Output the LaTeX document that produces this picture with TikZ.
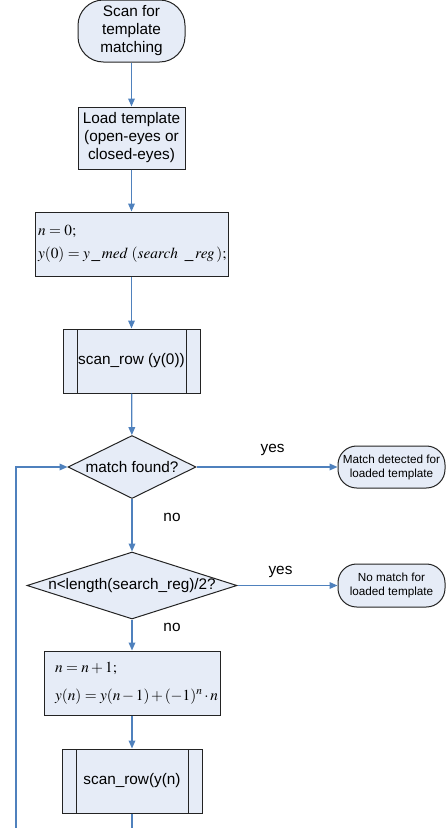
\documentclass[tikz,border=0pt]{standalone}
\usepackage{mathptmx}
\usepackage{fontspec}
\setmainfont{Liberation Sans}
\usetikzlibrary{shapes.geometric,arrows.meta}
\definecolor{boxfill}{RGB}{230,236,247}
\definecolor{flowblue}{RGB}{79,129,189}
\definecolor{darkline}{RGB}{35,35,35}

\tikzset{
  box/.style={draw=darkline, fill=boxfill, line width=0.75pt, inner sep=0pt, align=center,
    font=\fontsize{11.5}{13.5}\selectfont},
  term/.style={box, rounded corners=#1},
  term/.default=14pt,
  subbox/.style={box, path picture={
      \draw[darkline, line width=0.75pt] ([xshift=10.5pt]path picture bounding box.north west) -- ([xshift=10.5pt]path picture bounding box.south west);
      \draw[darkline, line width=0.75pt] ([xshift=-10.5pt]path picture bounding box.north east) -- ([xshift=-10.5pt]path picture bounding box.south east);}},
  dec/.style={box, shape=diamond},
  lbl/.style={font=\fontsize{11.5}{13.5}\selectfont},
  flowline/.style={draw=flowblue, line width=0.9pt},
  flow/.style={flowline, -{Triangle[length=6pt,width=5pt]}}
}

\begin{document}
\begin{tikzpicture}[x=0.75pt, y=-0.75pt]
  \useasboundingbox (0,0) rectangle (448,828);
  % Start and loading
  \node[term=19pt, minimum width=80.25pt, minimum height=46.5pt] (start) at (131.5,31) {Scan for\\template\\matching};
  \node[box, minimum width=80.25pt, minimum height=46.5pt] (load) at (131.5,138) {Load template\\(open-eyes or\\closed-eyes)};
  \node[box, minimum height=48pt, inner xsep=2.25pt, text width=140.25pt, align=left,
    font=\fontsize{11.5}{17.25}\selectfont] (init) at (131.5,244)
    {\mbox{$n=0;$}\\\mbox{$y(0)=y\,\_\,med\;(search\;\;\_\,reg\,);$}};
  \node[subbox, minimum width=102.75pt, minimum height=48pt] (scan0) at (131.5,361) {scan\_row (y(0))};
  % Decisions
  \node[dec, minimum width=96pt, minimum height=47.25pt, label={[lbl]center:match found?}] (dec1) at (132,467) {};
  \node[dec, minimum width=157.5pt, minimum height=50.25pt, label={[lbl]center:{n<length(search\_reg)/2?}}] (dec2) at (132,585.5) {};
  % End states
  \node[term, minimum width=80.25pt, minimum height=31.5pt, font=\fontsize{8.8}{10.5}\selectfont] (end1) at (391.5,467) {Match detected for\\loaded template};
  \node[term, minimum width=80.25pt, minimum height=32.25pt, font=\fontsize{8.8}{11}\selectfont] (end2) at (391.5,585.5) {No match for\\loaded template};
  % Next row
  \node[box, minimum height=48pt, inner xsep=8.25pt, text width=115.5pt, align=left,
    font=\fontsize{11.5}{21}\selectfont] (upd) at (132,683)
    {\mbox{$n=n+1;$}\\\mbox{$\medmuskip=2mu y(n)=y(n-1)+(-1)^{n}\cdot n$}};
  \node[subbox, minimum width=105pt, minimum height=48pt] (scann) at (132,781) {scan\_row(y(n)};
  \coordinate (bot1) at (132,828);
  \coordinate (bot2) at (16,828);
  % Connectors
  \draw[flow] (start) -- (load);
  \draw[flow] (load) -- (init);
  \draw[flow] (init) -- (scan0);
  \draw[flow] (scan0) -- (dec1);
  \draw[flow] (dec1) -- node[lbl, pos=0.54, yshift=13pt] {yes} (end1);
  \draw[flow] (dec1) -- node[lbl, pos=0.35, xshift=30pt] {no} (dec2);
  \draw[flow] (dec2) -- node[lbl, pos=0.43, yshift=10pt] {yes} (end2);
  \draw[flow] (dec2) -- node[lbl, pos=0.25, xshift=30pt] {no} (upd);
  \draw[flow] (upd) -- (scann);
  \draw[flowline] (scann) -- (bot1);
  \draw[flow] (bot2) |- (dec1);
\end{tikzpicture}
\end{document}
